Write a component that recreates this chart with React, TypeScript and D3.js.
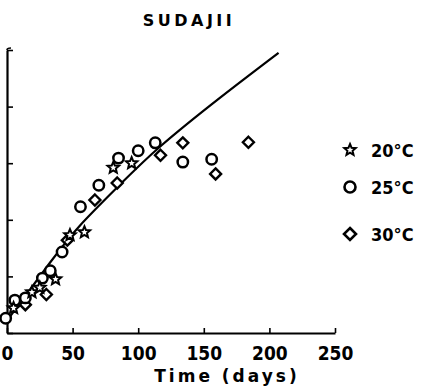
import React, { useEffect, useRef } from 'react';
import * as d3 from 'd3';

// growth values (days, relative amount)
const fitDays = [0, 33, 56, 86, 117, 162, 207];
const fitValues = [0.22, 1.25, 1.91, 2.62, 3.3, 4.15, 4.95];

const t20Days = [5, 19, 25, 37, 48, 59, 81, 95];
const t20Values = [0.44, 0.72, 0.8, 0.95, 1.73, 1.78, 2.92, 3.0];

const t25Days = [-1, 6, 14, 27, 33, 42, 56, 70, 85, 100, 113, 134, 156];
const t25Values = [0.26, 0.58, 0.62, 0.97, 1.1, 1.43, 2.23, 2.61, 3.09, 3.22, 3.36, 3.02, 3.07];

const t30Days = [14, 30, 46, 67, 84, 117, 134, 159, 184];
const t30Values = [0.5, 0.68, 1.64, 2.35, 2.65, 3.14, 3.36, 2.81, 3.37];

const xTicks = [0, 50, 100, 150, 200, 250];
const yTicks = [0, 1, 2, 3, 4, 5];
const legendLabels = ['20°C', '25°C', '30°C'];

const narrow = '"DejaVu Sans Condensed", "Liberation Sans Narrow", sans-serif';

const starPath = (r: number) => {
  const pts: string[] = [];
  for (let i = 0; i < 10; i++) {
    const a = -Math.PI / 2 + (i * Math.PI) / 5;
    const rr = i % 2 === 0 ? r : r * 0.45;
    pts.push(`${(rr * Math.cos(a)).toFixed(2)},${(rr * Math.sin(a)).toFixed(2)}`);
  }
  return 'M' + pts.join('L') + 'Z';
};
const diamondPath = (r: number) => `M0,${-r}L${r},0L0,${r}L${-r},0Z`;

const App = () => {
  const ref = useRef<SVGSVGElement | null>(null);

  useEffect(() => {
    if (!ref.current) return;
    const svg = d3.select(ref.current);
    svg.selectAll('*').remove();

    const x = d3.scaleLinear().domain([0, 250]).range([7, 335]);
    const y = d3.scaleLinear().domain([0, 5]).range([333, 50]);

    // title
    svg.append('text')
      .attr('x', 189).attr('y', 26)
      .attr('text-anchor', 'middle')
      .style('font-family', '"DejaVu Sans", sans-serif')
      .style('font-weight', 'bold')
      .style('font-size', '16px')
      .style('letter-spacing', '3.5px')
      .text('SUDAJII');

    // x axis
    const xAxis = svg.append('g')
      .attr('transform', `translate(0,${y(0)})`)
      .call(d3.axisBottom(x).tickValues(xTicks).tickSizeInner(-5).tickSizeOuter(0).tickPadding(14));
    xAxis.select('.domain').attr('stroke', '#000').attr('stroke-width', 2.2);
    xAxis.selectAll('.tick line').attr('stroke', '#000').attr('stroke-width', 1.6);
    xAxis.selectAll('.tick text')
      .attr('fill', '#000')
      .style('font-family', narrow)
      .style('font-weight', 'bold')
      .style('font-size', '19px');

    // y axis (no labels)
    const yAxis = svg.append('g')
      .attr('transform', `translate(${x(0)},0)`)
      .call(d3.axisLeft(y).tickValues(yTicks).tickSizeInner(-6).tickSizeOuter(0).tickFormat(() => ''));
    yAxis.select('.domain').attr('stroke', '#000').attr('stroke-width', 2.2);
    yAxis.selectAll('.tick line').attr('stroke', '#000').attr('stroke-width', 1.6);
    // little hook at the top of the y axis
    svg.append('path')
      .attr('d', `M${x(0)},${y(5)}Q${x(0)},${y(5) - 2} ${x(0) + 4},${y(5) - 2}`)
      .attr('fill', 'none').attr('stroke', '#000').attr('stroke-width', 1.6);

    // axis title
    svg.append('text')
      .attr('x', 227).attr('y', 382)
      .attr('text-anchor', 'middle')
      .style('font-family', '"DejaVu Sans", sans-serif')
      .style('font-weight', 'bold')
      .style('font-size', '17px')
      .style('letter-spacing', '3px')
      .text('Time (days)');

    // fitted curve
    const line = d3.line<number>()
      .x((_, i) => x(fitDays[i]))
      .y(d => y(d))
      .curve(d3.curveNatural);
    svg.append('path')
      .attr('d', line(fitValues))
      .attr('fill', 'none')
      .attr('stroke', '#000')
      .attr('stroke-width', 2.2);

    const marks = svg.append('g').attr('fill', '#fff').attr('stroke', '#000');

    marks.selectAll('.s30')
      .data(t30Values)
      .enter()
      .append('path')
      .attr('transform', (d, i) => `translate(${x(t30Days[i])},${y(d)})`)
      .attr('d', diamondPath(5.5))
      .attr('stroke-width', 2.4);

    marks.selectAll('.s25')
      .data(t25Values)
      .enter()
      .append('circle')
      .attr('cx', (_, i) => x(t25Days[i]))
      .attr('cy', d => y(d))
      .attr('r', 5.2)
      .attr('stroke-width', 2.5);

    marks.selectAll('.s20')
      .data(t20Values)
      .enter()
      .append('path')
      .attr('transform', (d, i) => `translate(${x(t20Days[i])},${y(d)})`)
      .attr('d', starPath(6))
      .attr('stroke-width', 2);

    // legend
    const legendY = [150, 187, 234];
    const lg = svg.append('g');
    legendLabels.forEach((label, i) => {
      const g = lg.append('g').attr('transform', `translate(350,${legendY[i]})`);
      if (i === 0) {
        g.append('path').attr('d', starPath(6)).attr('fill', '#fff').attr('stroke', '#000').attr('stroke-width', 2);
      } else if (i === 1) {
        g.append('circle').attr('r', 5.5).attr('fill', '#fff').attr('stroke', '#000').attr('stroke-width', 2.6);
      } else {
        g.append('path').attr('d', diamondPath(6)).attr('fill', '#fff').attr('stroke', '#000').attr('stroke-width', 2.6);
      }
      g.append('text')
        .attr('x', 21).attr('y', 7)
        .style('font-family', narrow)
        .style('font-weight', 'bold')
        .style('font-size', '18px')
        .text(label);
    });
  }, []);

  return (
    <svg ref={ref} width={423} height={389}
      style={{ position: 'absolute', left: 0, top: 0, background: '#fff' }} />
  );
};

export default App;
